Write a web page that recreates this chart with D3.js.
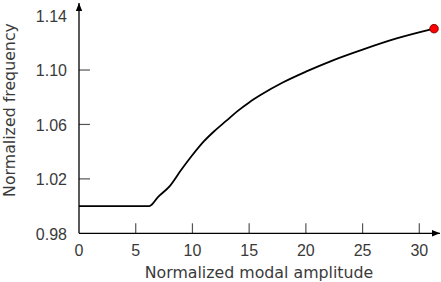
<!DOCTYPE html>
<html>
<head>
<meta charset="utf-8">
<script src="https://cdn.jsdelivr.net/npm/d3@7"></script>
<style>
  body { margin: 0; background: #fff; }
  svg text { font-family: "Liberation Sans", sans-serif; fill: #3a3a3a; font-size: 16px; }
  svg text.title { font-family: "DejaVu Sans", sans-serif; font-size: 15.8px; }
</style>
</head>
<body>
<svg id="chart" width="441" height="282"></svg>
<script>
var amplitude = [0, 6.2, 7.0, 8.0, 9.0, 10.0, 11.0, 12.0, 13.0, 14.0, 15.0, 16.0, 18.0, 20.0, 22.5, 25.0, 28.0, 31.3];
var frequency = [1.0, 1.0, 1.007, 1.0147, 1.0265, 1.0375, 1.0475, 1.0556, 1.0628, 1.0700, 1.0762, 1.0816, 1.0910, 1.0988, 1.1075, 1.1150, 1.1232, 1.1304];
var xTicks = [0, 5, 10, 15, 20, 25, 30];
var yTicks = [0.98, 1.02, 1.06, 1.10, 1.14];

var svg = d3.select('#chart');
var x = d3.scaleLinear().domain([0, 30]).range([79, 419.3]);
var y = d3.scaleLinear().domain([0.98, 1.14]).range([233.3, 15.6]);

// ticks (drawn inward, gray)
svg.append('g')
    .selectAll('line')
    .data(xTicks.filter(function(d){ return d > 0; }))
    .enter().append('line')
    .attr('x1', function(d){ return x(d); })
    .attr('x2', function(d){ return x(d); })
    .attr('y1', y(0.98))
    .attr('y2', y(0.98) - 10)
    .attr('stroke', '#555')
    .attr('stroke-width', 1.2);

svg.append('g')
    .selectAll('line')
    .data(yTicks.filter(function(d){ return d > 0.98 && d < 1.14; }))
    .enter().append('line')
    .attr('x1', x(0))
    .attr('x2', x(0) + 11)
    .attr('y1', function(d){ return y(d); })
    .attr('y2', function(d){ return y(d); })
    .attr('stroke', '#555')
    .attr('stroke-width', 1.2);

// tick labels
svg.append('g')
    .selectAll('text')
    .data(xTicks)
    .enter().append('text')
    .attr('x', function(d){ return x(d); })
    .attr('y', 255.5)
    .attr('text-anchor', 'middle')
    .text(function(d){ return d; });

svg.append('g')
    .selectAll('text')
    .data(yTicks)
    .enter().append('text')
    .attr('x', 67)
    .attr('y', function(d){ return y(d) + 6.3; })
    .attr('text-anchor', 'end')
    .text(function(d){ return d.toFixed(2); });

// axis lines with arrows
svg.append('defs').append('marker')
    .attr('id', 'arrow')
    .attr('viewBox', '0 0 10 10')
    .attr('refX', 10).attr('refY', 5)
    .attr('markerWidth', 8).attr('markerHeight', 8)
    .attr('markerUnits', 'userSpaceOnUse')
    .attr('orient', 'auto')
    .append('path')
    .attr('d', 'M0,1 L10,5 L0,9 Z')
    .attr('fill', '#000');

svg.append('line')
    .attr('x1', x(0)).attr('y1', y(0.98))
    .attr('x2', 440).attr('y2', y(0.98))
    .attr('stroke', '#000').attr('stroke-width', 1.3)
    .attr('marker-end', 'url(#arrow)');

svg.append('line')
    .attr('x1', x(0)).attr('y1', y(0.98))
    .attr('x2', x(0)).attr('y2', 3)
    .attr('stroke', '#000').attr('stroke-width', 1.3)
    .attr('marker-end', 'url(#arrow)');

// curve
var line = d3.line()
    .x(function(d){ return x(d[0]); })
    .y(function(d){ return y(d[1]); })
    .curve(d3.curveMonotoneX);

var pts = amplitude.map(function(a, i){ return [a, frequency[i]]; });

svg.append('path')
    .datum(pts)
    .attr('d', line)
    .attr('fill', 'none')
    .attr('stroke', '#000')
    .attr('stroke-width', 1.8);

var last = pts[pts.length - 1];
svg.append('circle')
    .attr('cx', x(last[0]))
    .attr('cy', y(last[1]))
    .attr('r', 4.3)
    .attr('fill', '#f00')
    .attr('stroke', '#600')
    .attr('stroke-width', 0.8);

// axis titles
svg.append('text')
    .attr('class', 'title')
    .attr('x', 259)
    .attr('y', 278)
    .attr('text-anchor', 'middle')
    .text('Normalized modal amplitude');

svg.append('text')
    .attr('class', 'title')
    .attr('transform', 'translate(15,110) rotate(-90)')
    .attr('text-anchor', 'middle')
    .text('Normalized frequency');
</script>
</body>
</html>
